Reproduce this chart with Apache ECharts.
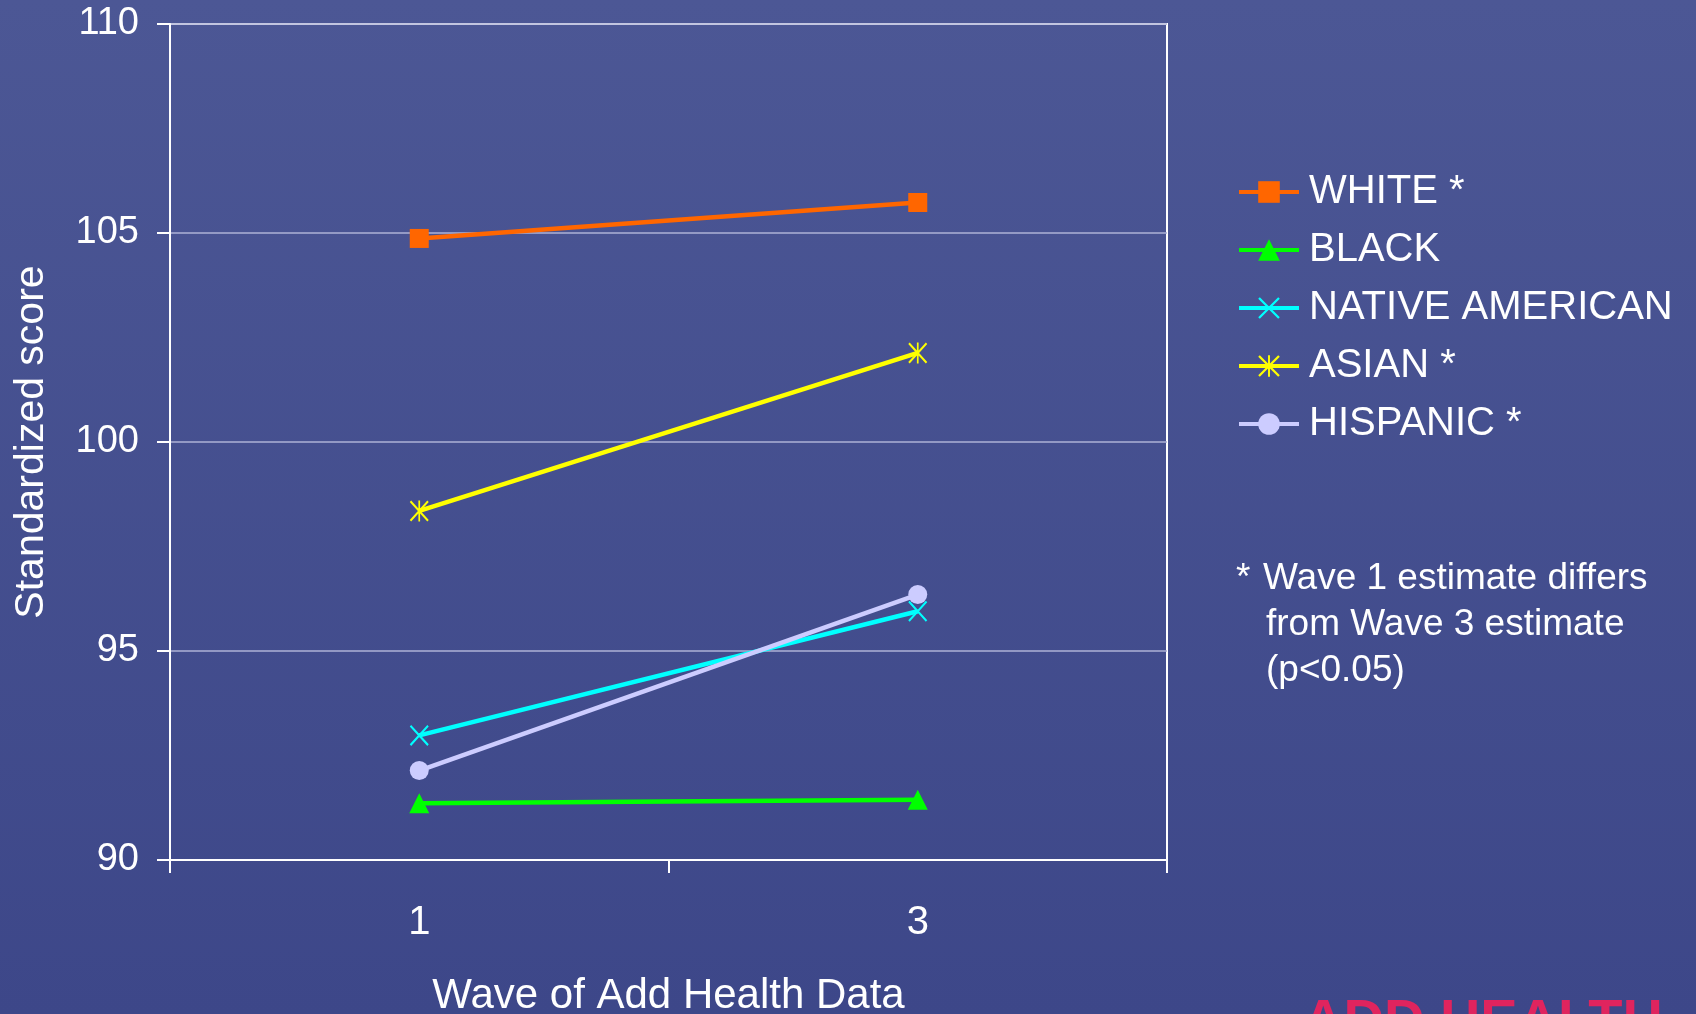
<!DOCTYPE html>
<html>
<head>
<meta charset="utf-8">
<title>Standardized score by wave</title>
<script src="https://cdn.jsdelivr.net/npm/echarts@6/dist/echarts.min.js"></script>
<style>
  html, body { margin: 0; padding: 0; width: 1696px; height: 1014px; overflow: hidden; }
  #chart { width: 1696px; height: 1014px; }
</style>
</head>
<body>
<div id="chart"></div>
<script>
// Waves on the horizontal axis
const waves = ['1', '3'];

// Mean standardized score per group, wave 1 and wave 3
const white    = [104.87, 105.73];
const black    = [91.36, 91.44];
const native   = [92.98, 95.95];
const asian    = [98.35, 102.13];
const hispanic = [92.14, 96.35];

const seriesNames = ['WHITE *', 'BLACK', 'NATIVE AMERICAN', 'ASIAN *', 'HISPANIC *'];

// Vertical axis ticks
const yMin = 90, yMax = 110, yStep = 5;

// Marker shapes drawn as filled outlines so thin strokes survive scaling
const crossPath = 'path://M0 1.5L1.5 0L20 18.5L18.5 20Z M18.5 0L20 1.5L1.5 20L0 18.5Z';
const starPath  = 'path://M0 1.5L1.5 0L20 18.5L18.5 20Z M18.5 0L20 1.5L1.5 20L0 18.5Z M9.1 0L10.9 0L10.9 20L9.1 20Z';

const FONT = '"Liberation Sans", Arial, sans-serif';

function lineSeries(name, data, color, symbol, size) {
  return {
    name: name,
    type: 'line',
    data: data,
    symbol: symbol,
    symbolSize: size,
    showAllSymbol: true,
    itemStyle: { color: color },
    lineStyle: { color: color, width: 4.5 },
    emphasis: { disabled: true },
    animation: false
  };
}

const chart = echarts.init(document.getElementById('chart'), null, { renderer: 'canvas' });

chart.setOption({
  backgroundColor: {
    type: 'linear', x: 0, y: 0, x2: 0, y2: 1,
    colorStops: [
      { offset: 0, color: '#4c5795' },
      { offset: 1, color: '#3d4789' }
    ]
  },
  textStyle: { fontFamily: FONT },
  grid: {
    left: 170, right: 529, top: 24, bottom: 154,
    outerBoundsMode: 'none',
    containLabel: false,
    show: true, borderColor: '#ffffff', borderWidth: 2,
    backgroundColor: 'transparent'
  },
  legend: {
    left: 1232, top: 167,
    orient: 'vertical',
    itemWidth: 60, itemHeight: 27, itemGap: 18,
    selectedMode: false,
    lineStyle: { width: 4 },
    textStyle: { color: '#ffffff', fontSize: 40, fontFamily: FONT, lineHeight: 40, padding: [0, 0, 0, 5] },
    data: seriesNames
  },
  xAxis: {
    type: 'category',
    data: waves,
    boundaryGap: true,
    name: 'Wave of Add Health Data',
    nameLocation: 'middle',
    nameGap: 115,
    nameTextStyle: { color: '#ffffff', fontSize: 42, fontFamily: FONT },
    axisLine: { lineStyle: { color: '#ffffff', width: 2 } },
    axisTick: { show: true, inside: false, length: 13, interval: 0, lineStyle: { color: '#ffffff', width: 2 } },
    axisLabel: { color: '#ffffff', fontSize: 40, margin: 43, fontFamily: FONT },
    splitLine: { show: false }
  },
  yAxis: {
    type: 'value',
    min: yMin, max: yMax, interval: yStep,
    name: 'Standardized score',
    nameLocation: 'middle',
    nameRotate: 90,
    nameGap: 118,
    nameTextStyle: { color: '#ffffff', fontSize: 41, fontFamily: FONT },
    axisLine: { show: true, lineStyle: { color: '#ffffff', width: 2 } },
    axisTick: { show: true, inside: false, length: 13, lineStyle: { color: '#ffffff', width: 2 } },
    axisLabel: { color: '#ffffff', fontSize: 38, margin: 31, fontFamily: FONT },
    splitLine: { show: true, lineStyle: { color: '#aeb2d6', width: 1.5 } }
  },
  series: [
    lineSeries(seriesNames[0], white,    '#ff6600', 'rect', 19),
    lineSeries(seriesNames[1], black,    '#00ff00', 'triangle', [20, 20]),
    lineSeries(seriesNames[2], native,   '#00ffff', crossPath, [19, 21]),
    lineSeries(seriesNames[3], asian,    '#ffff00', starPath, [19, 21]),
    lineSeries(seriesNames[4], hispanic, '#ccccff', 'circle', 19)
  ],
  graphic: [
    // footnote on significance
    { type: 'text', left: 1236, top: 560, style: { text: '*', fill: '#ffffff', font: '37px ' + FONT } },
    { type: 'text', left: 1263, top: 560, style: { text: 'Wave 1 estimate differs', fill: '#ffffff', font: '37px ' + FONT } },
    { type: 'text', left: 1266, top: 606, style: { text: 'from Wave 3 estimate', fill: '#ffffff', font: '37px ' + FONT } },
    { type: 'text', left: 1266, top: 652, style: { text: '(p<0.05)', fill: '#ffffff', font: '37px ' + FONT } },
    // logo wordmark peeking in at the bottom edge
    { type: 'text', left: 1303, top: 995, style: { text: 'ADD HEALTH', fill: '#e0245e', font: 'bold 56px ' + FONT } }
  ]
});
</script>
</body>
</html>
